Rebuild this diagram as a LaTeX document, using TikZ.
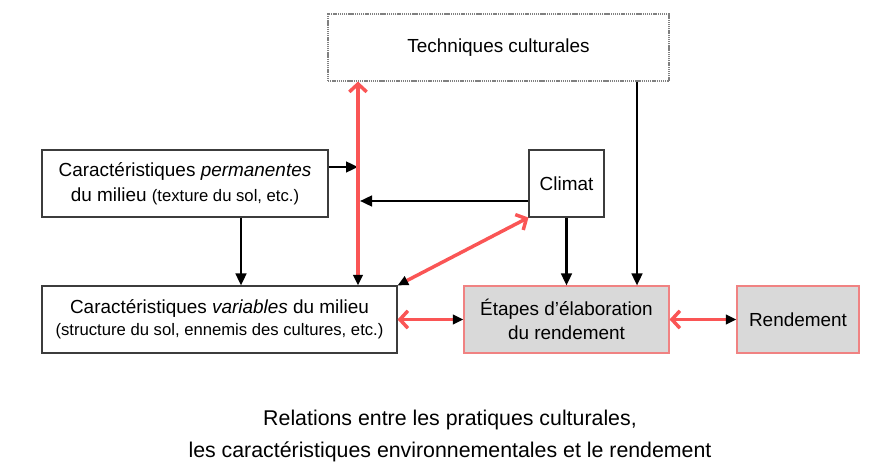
\documentclass[tikz,border=0pt]{standalone}
\usepackage{fontspec}
\setmainfont{Liberation Sans}
\usepackage{tikz}
\usetikzlibrary{arrows.meta}
\usepackage{xcolor}
\definecolor{relred}{RGB}{250,85,85}
\definecolor{relpink}{RGB}{240,130,130}
\definecolor{relgray}{RGB}{217,217,217}
\definecolor{relborder}{RGB}{60,60,60}

\begin{document}
\begin{tikzpicture}[x=0.75pt, y=-0.75pt,
    box/.style={draw=relborder, line width=0.8pt, inner sep=0pt, minimum height=50.25pt, align=center, font=\fontsize{14.2}{19}\selectfont},
    etape/.style={box, draw=relpink, fill=relgray},
    arrow/.style={-{Triangle[length=9pt, width=8pt]}, line width=1.8pt},
    relarrow/.style={{Triangle[black, length=8pt, width=7pt]}-{Straight Barb[relred, length=6pt, width=13pt, line width=2.6pt]}, draw=relred, line width=2.6pt}
]
\useasboundingbox (0,0) rectangle (871,470);

% Boxes
\node[box, draw=gray, dash pattern=on 1pt off 0.6pt, minimum width=255.75pt] (tech) at (498.5, 47.5) {Techniques culturales};
\node[box, minimum width=214.5pt] (perm) at (185, 183.5) {Caractéristiques \textit{permanentes}\\du milieu {\fontsize{12.5}{15}\selectfont(texture du sol, etc.)}};
\node[box, minimum width=56.25pt] (clim) at (566.5, 183.5) {Climat};
\node[box, minimum width=266.25pt, font=\fontsize{14.2}{16.5}\selectfont] (var) at (219.5, 319.5) {Caractéristiques \textit{variables} du milieu\\{\fontsize{12.5}{15}\selectfont(structure du sol, ennemis des cultures, etc.)}};
\node[etape, minimum width=153.75pt, font=\fontsize{14.2}{18}\selectfont] (etap) at (566.5, 319.5) {Étapes d’élaboration\\du rendement};
\node[etape, minimum width=91.5pt] (rend) at (798, 319.5) {Rendement};

% Caption
\node[align=center, font=\fontsize{16}{24}\selectfont] (legende) at (450, 436) {Relations entre les pratiques culturales,\\les caractéristiques environnementales et le rendement};

% Helper coordinates
\coordinate (axe) at (358, 0);
\coordinate (pin) at (358, 167);
\coordinate (cin) at (360, 201);
\coordinate (colperm) at (241, 0);
\coordinate (coltech) at (637, 0);

% Black arrows
\draw[arrow] (perm.east |- pin) -- (pin);
\draw[arrow] (clim.west |- cin) -- (cin);
\draw[arrow] (perm.south -| colperm) -- (var.north -| colperm);
\draw[arrow] (tech.south -| coltech) -- (etap.north -| coltech);
\draw[arrow] (clim.south) -- (etap.north -| clim.south);

% Red arrows
\draw[relarrow] (var.north -| axe) -- (tech.south -| axe);
\draw[relarrow] (var.north east) -- (clim.south west);
\draw[relarrow] (etap.west) -- (var.east);
\draw[relarrow] (rend.west) -- (etap.east);

\end{tikzpicture}
\end{document}
